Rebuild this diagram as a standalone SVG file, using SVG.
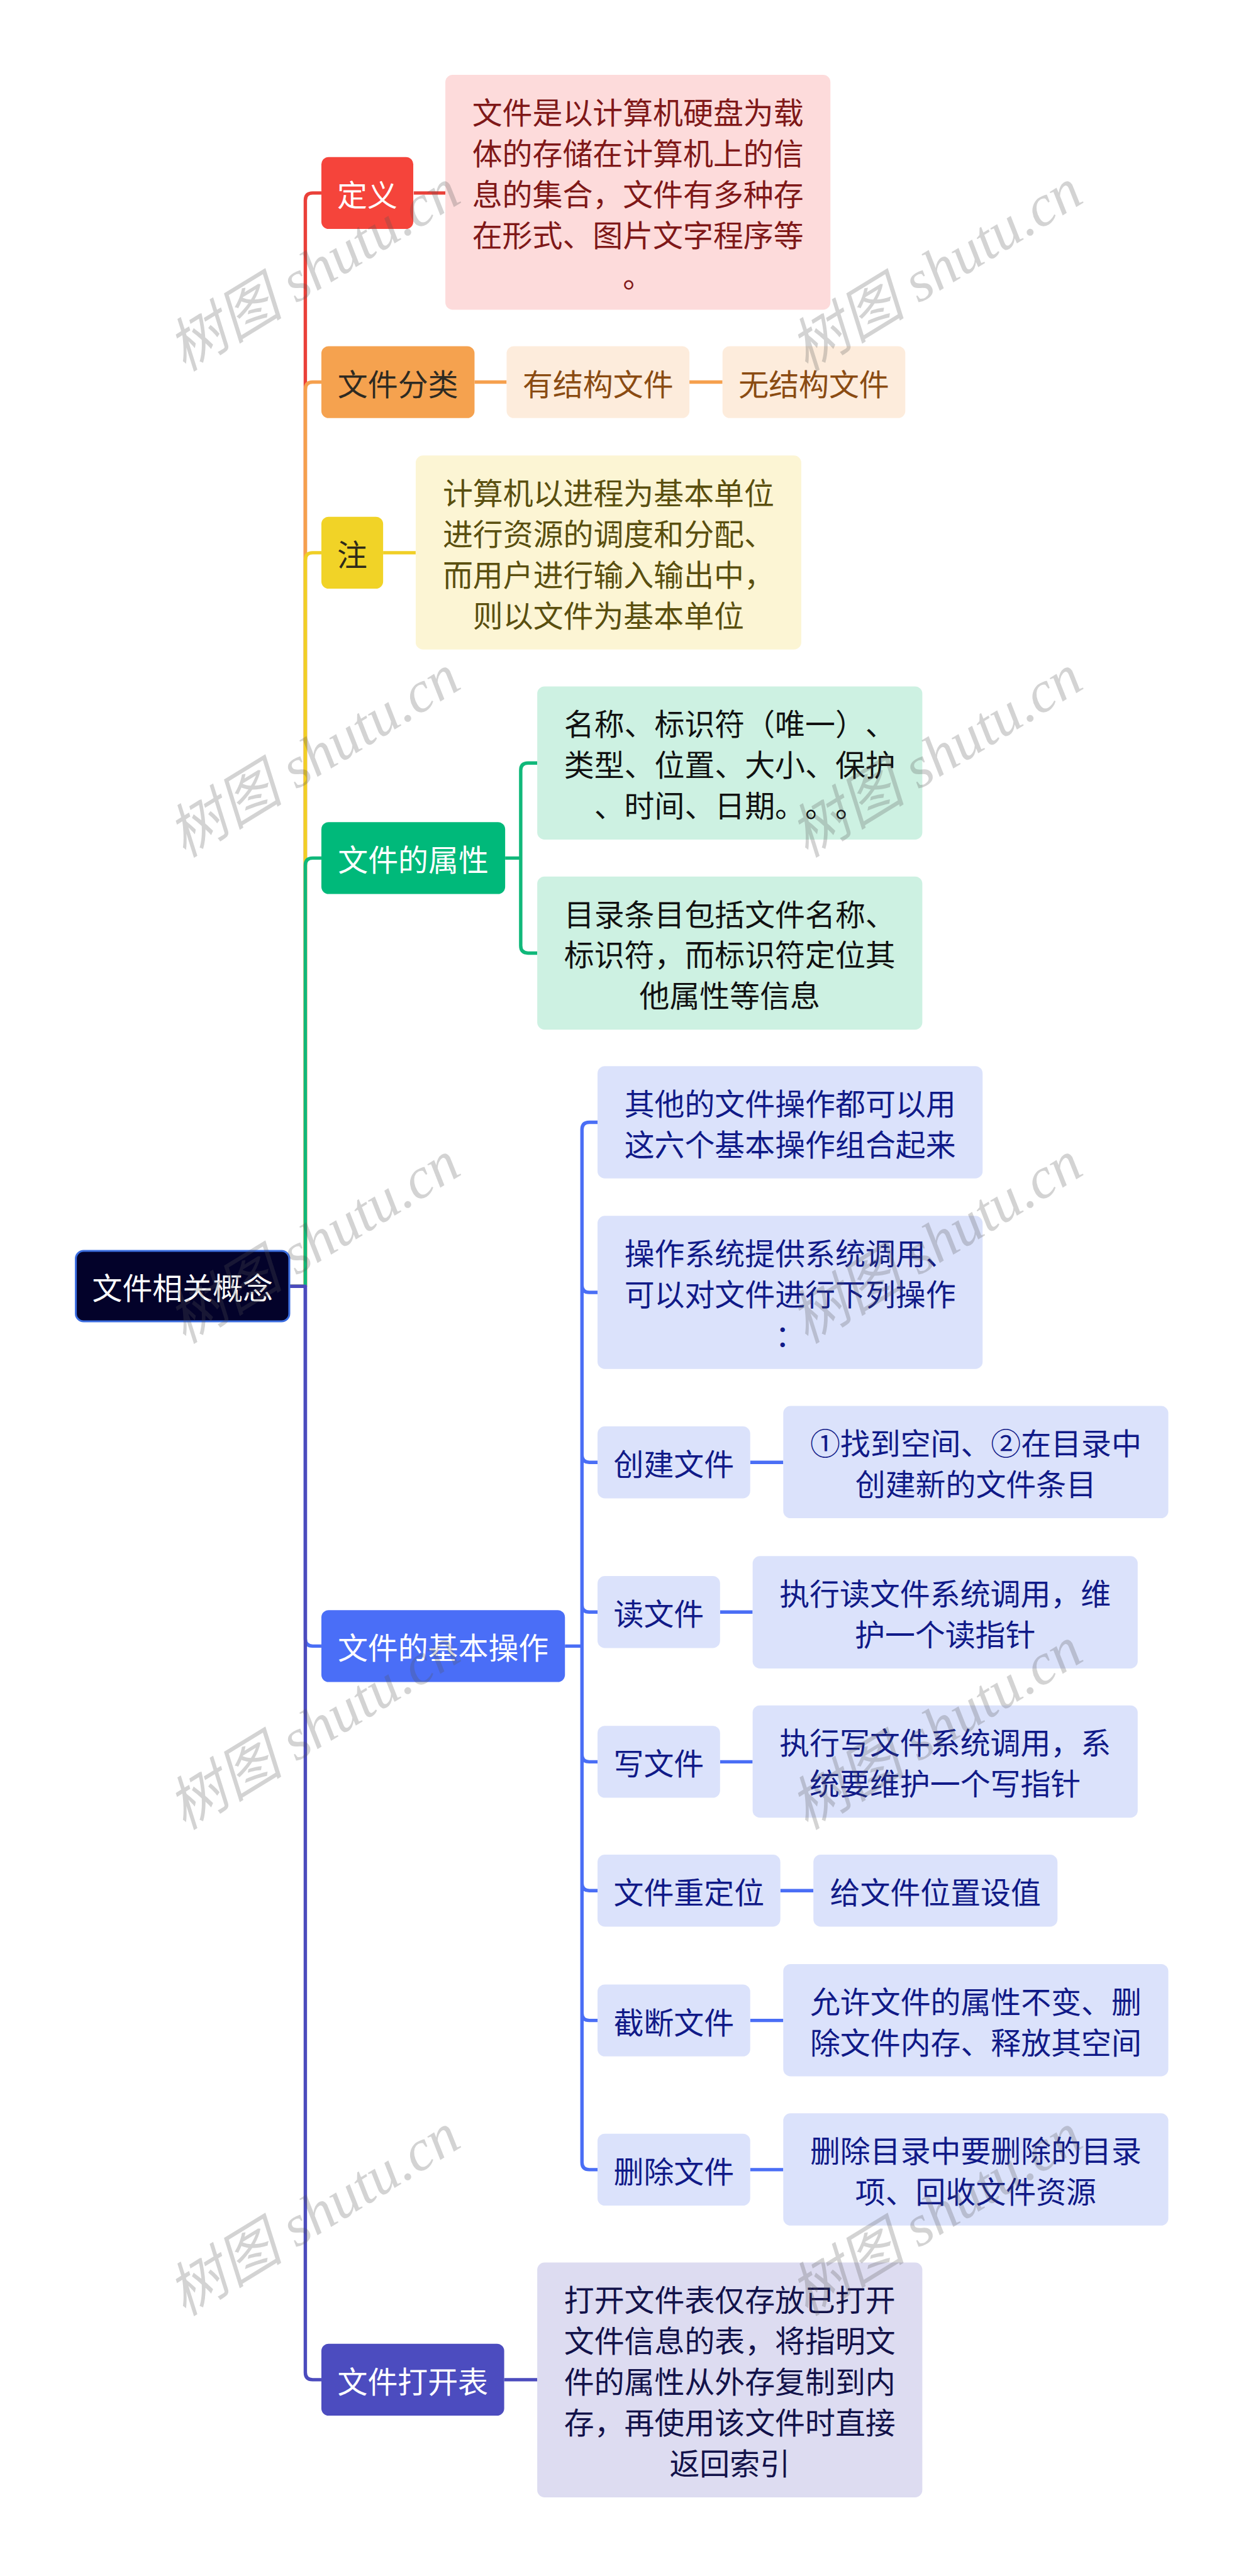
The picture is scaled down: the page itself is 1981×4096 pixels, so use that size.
<svg xmlns="http://www.w3.org/2000/svg" width="1981" height="4096" viewBox="0 0 1981 4096">
<style>
text{font-family:"Noto Sans CJK SC","Noto Sans",sans-serif;font-size:62px;text-anchor:middle;dominant-baseline:central;text-spacing-trim:space-all;font-kerning:none}
.ln{fill:none;stroke-width:7;stroke-linecap:butt;stroke-linejoin:round}
.wm{font-family:"Liberation Serif","Noto Sans CJK SC",serif;font-style:italic;font-size:120px;fill:#555;fill-opacity:0.26;text-anchor:middle}
</style>
<rect width="1981" height="4096" fill="#fff"/>
<g transform="scale(0.773)">
<g id="connectors">
<path class="ln" stroke="#ea4039" d="M595,2646 H628 V412 Q628,397 643,397 H661 M851,397 H916"/>
<path class="ln" stroke="#f5a04e" d="M595,2646 H628 V801 Q628,786 643,786 H661 M976,786 H1042 M1418,786 H1486"/>
<path class="ln" stroke="#f0cf25" d="M595,2646 H628 V1152 Q628,1137 643,1137 H661 M788,1137 H855"/>
<path class="ln" stroke="#10b87a" d="M595,2646 H628 V1780 Q628,1765 643,1765 H661 M1039,1765 H1071 M1105,1569.5 H1086 Q1071,1569.5 1071,1584.5 V1945.5 Q1071,1960.5 1086,1960.5 H1105"/>
<path class="ln" stroke="#4a6ef5" d="M595,2646 H628 V3371 Q628,3386 643,3386 H661 M1162,3386 H1197 M1229,2308.5 H1212 Q1197,2308.5 1197,2323.5 V4448 Q1197,4463 1212,4463 H1229 M1197,2643.5 Q1197,2658.5 1212,2658.5 H1229 M1197,2993 Q1197,3008 1212,3008 H1229 M1197,3301 Q1197,3316 1212,3316 H1229 M1197,3609 Q1197,3624 1212,3624 H1229 M1197,3874 Q1197,3889 1212,3889 H1229 M1197,4141 Q1197,4156 1212,4156 H1229 M1543,3008 H1611 M1481,3316 H1548 M1481,3624 H1548 M1605,3889 H1673 M1543,4156 H1611 M1543,4463 H1611"/>
<path class="ln" stroke="#4b4bbd" d="M595,2646 H628 V4880 Q628,4895 643,4895 H661 M1037,4895 H1105"/>
</g>
<g id="root"><rect x="156" y="2573" width="439" height="145" rx="16" fill="#03022a" stroke="#3b6de0" stroke-width="4"/><text x="375.5" y="2645.5" fill="#fff">文件相关概念</text></g>
<g id="n-dingyi"><rect x="661" y="323" width="189" height="148" rx="15" fill="#f5443b"/><text x="755.5" y="397" fill="#fff">定义</text></g>
<g id="n-dingyi-text"><rect x="916" y="154" width="792" height="483" rx="15" fill="#fddbdb"/><g fill="#7f1818"><text x="1312" y="227.5">文件是以计算机硬盘为载</text><text x="1312" y="311.5">体的存储在计算机上的信</text><text x="1312" y="395.5">息的集合，文件有多种存</text><text x="1312" y="479.5">在形式、图片文字程序等</text><text x="1312" y="563.5">。</text></g></g>
<g id="n-fenlei"><rect x="661" y="712" width="315" height="148" rx="15" fill="#f5a24f"/><text x="818.5" y="786" fill="#2e2a22">文件分类</text></g>
<g id="n-youjiegou"><rect x="1042" y="712" width="376" height="148" rx="15" fill="#fdecdc"/><text x="1230" y="786" fill="#8a4b12">有结构文件</text></g>
<g id="n-wujiegou"><rect x="1486" y="712" width="376" height="148" rx="15" fill="#fdecdc"/><text x="1674" y="786" fill="#8a4b12">无结构文件</text></g>
<g id="n-zhu"><rect x="661" y="1063" width="127" height="148" rx="15" fill="#f1d327"/><text x="724.5" y="1137" fill="#2e2a1a">注</text></g>
<g id="n-zhu-text"><rect x="855" y="937" width="793" height="399" rx="15" fill="#fcf5d4"/><g fill="#5a4f0f"><text x="1251.5" y="1010.5">计算机以进程为基本单位</text><text x="1251.5" y="1094.5">进行资源的调度和分配、</text><text x="1251.5" y="1178.5">而用户进行输入输出中，</text><text x="1251.5" y="1262.5">则以文件为基本单位</text></g></g>
<g id="n-shuxing"><rect x="661" y="1691" width="378" height="148" rx="15" fill="#00b97a"/><text x="850" y="1765" fill="#fff">文件的属性</text></g>
<g id="n-attr1"><rect x="1105" y="1412" width="792" height="315" rx="15" fill="#cdf1e2"/><g fill="#111"><text x="1501" y="1485.5">名称、标识符（唯一）、</text><text x="1501" y="1569.5">类型、位置、大小、保护</text><text x="1501" y="1653.5">、时间、日期。。。</text></g></g>
<g id="n-attr2"><rect x="1105" y="1803" width="792" height="315" rx="15" fill="#cdf1e2"/><g fill="#111"><text x="1501" y="1876.5">目录条目包括文件名称、</text><text x="1501" y="1960.5">标识符，而标识符定位其</text><text x="1501" y="2044.5">他属性等信息</text></g></g>
<g id="n-caozuo"><rect x="661" y="3312" width="501" height="148" rx="15" fill="#4a6ef7"/><text x="911.5" y="3386" fill="#fff">文件的基本操作</text></g>
<g fill="#101a88">
<g id="n-op1"><rect x="1229" y="2193" width="792" height="231" rx="15" fill="#dbe2fb"/><text x="1625" y="2266.5">其他的文件操作都可以用</text><text x="1625" y="2350.5">这六个基本操作组合起来</text></g>
<g id="n-op2"><rect x="1229" y="2501" width="792" height="315" rx="15" fill="#dbe2fb"/><text x="1625" y="2574.5">操作系统提供系统调用、</text><text x="1625" y="2658.5">可以对文件进行下列操作</text><text x="1625" y="2742.5">：</text></g>
<g id="n-create"><rect x="1229" y="2934" width="314" height="148" rx="15" fill="#dbe2fb"/><text x="1386" y="3008">创建文件</text></g>
<g id="n-create-d"><rect x="1611" y="2892" width="792" height="231" rx="15" fill="#dbe2fb"/><text x="2007" y="2965.5">①找到空间、②在目录中</text><text x="2007" y="3049.5">创建新的文件条目</text></g>
<g id="n-read"><rect x="1229" y="3242" width="252" height="148" rx="15" fill="#dbe2fb"/><text x="1355" y="3316">读文件</text></g>
<g id="n-read-d"><rect x="1548" y="3201" width="792" height="231" rx="15" fill="#dbe2fb"/><text x="1944" y="3274.5">执行读文件系统调用，维</text><text x="1944" y="3358.5">护一个读指针</text></g>
<g id="n-write"><rect x="1229" y="3550" width="252" height="148" rx="15" fill="#dbe2fb"/><text x="1355" y="3624">写文件</text></g>
<g id="n-write-d"><rect x="1548" y="3508" width="792" height="231" rx="15" fill="#dbe2fb"/><text x="1944" y="3581.5">执行写文件系统调用，系</text><text x="1944" y="3665.5">统要维护一个写指针</text></g>
<g id="n-seek"><rect x="1229" y="3815" width="376" height="148" rx="15" fill="#dbe2fb"/><text x="1417" y="3889">文件重定位</text></g>
<g id="n-seek-d"><rect x="1673" y="3815" width="502" height="148" rx="15" fill="#dbe2fb"/><text x="1924" y="3889">给文件位置设值</text></g>
<g id="n-trunc"><rect x="1229" y="4082" width="314" height="148" rx="15" fill="#dbe2fb"/><text x="1386" y="4156">截断文件</text></g>
<g id="n-trunc-d"><rect x="1611" y="4040" width="792" height="231" rx="15" fill="#dbe2fb"/><text x="2007" y="4113.5">允许文件的属性不变、删</text><text x="2007" y="4197.5">除文件内存、释放其空间</text></g>
<g id="n-delete"><rect x="1229" y="4389" width="314" height="148" rx="15" fill="#dbe2fb"/><text x="1386" y="4463">删除文件</text></g>
<g id="n-delete-d"><rect x="1611" y="4347" width="792" height="231" rx="15" fill="#dbe2fb"/><text x="2007" y="4420.5">删除目录中要删除的目录</text><text x="2007" y="4504.5">项、回收文件资源</text></g>
</g>
<g id="n-openfile"><rect x="661" y="4821" width="376" height="148" rx="15" fill="#4c4cbf"/><text x="849" y="4895" fill="#fff">文件打开表</text></g>
<g id="n-openfile-d"><rect x="1105" y="4654" width="792" height="483" rx="15" fill="#dddcf1"/><g fill="#12124a"><text x="1501" y="4727.5">打开文件表仅存放已打开</text><text x="1501" y="4811.5">文件信息的表，将指明文</text><text x="1501" y="4895.5">件的属性从外存复制到内</text><text x="1501" y="4979.5">存，再使用该文件时直接</text><text x="1501" y="5063.5">返回索引</text></g></g>
<g id="watermarks">
<text class="wm" transform="translate(645,555) rotate(-31.5)">树图 shutu.cn</text>
<text class="wm" transform="translate(1925,555) rotate(-31.5)">树图 shutu.cn</text>
<text class="wm" transform="translate(645,1555) rotate(-31.5)">树图 shutu.cn</text>
<text class="wm" transform="translate(1925,1555) rotate(-31.5)">树图 shutu.cn</text>
<text class="wm" transform="translate(645,2555) rotate(-31.5)">树图 shutu.cn</text>
<text class="wm" transform="translate(1925,2555) rotate(-31.5)">树图 shutu.cn</text>
<text class="wm" transform="translate(645,3555) rotate(-31.5)">树图 shutu.cn</text>
<text class="wm" transform="translate(1925,3555) rotate(-31.5)">树图 shutu.cn</text>
<text class="wm" transform="translate(645,4555) rotate(-31.5)">树图 shutu.cn</text>
<text class="wm" transform="translate(1925,4555) rotate(-31.5)">树图 shutu.cn</text>
</g>
</g>
</svg>
